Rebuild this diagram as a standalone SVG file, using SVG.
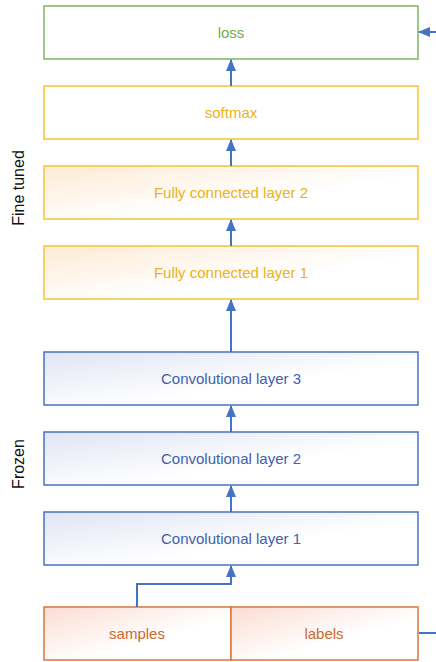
<svg xmlns="http://www.w3.org/2000/svg" width="436" height="662" viewBox="0 0 436 662">
<style>
  text { font-family: "Liberation Sans", Arial, sans-serif; font-size: 15px; text-anchor: middle; dominant-baseline: central; }
  .side { fill: #111; font-size: 16px; }
  .green rect { fill: #fff; stroke: #7BB661; stroke-width: 1.5; }
  .green text { fill: #6FAE4A; }
  .yellow rect { stroke: #F5C431; stroke-width: 1.5; }
  .yellow text { fill: #E9B21C; }
  .blue rect { fill: url(#gBlue); stroke: #4A72C0; stroke-width: 1.5; }
  .blue text { fill: #3E62A8; }
  .orange rect { fill: url(#gOrange); stroke: #D9773E; stroke-width: 1.5; }
  .orange text { fill: #C86A2E; }
  .conn path { fill: none; stroke: #4472C4; stroke-width: 2; }
</style>
<defs>
  <linearGradient id="gYellow" x1="0" y1="0" x2="1" y2="1">
    <stop offset="0" stop-color="#FDEBD5"/>
    <stop offset="0.6" stop-color="#FFFFFF"/>
  </linearGradient>
  <linearGradient id="gBlue" x1="0" y1="0" x2="1" y2="1">
    <stop offset="0" stop-color="#E0E5F4"/>
    <stop offset="0.6" stop-color="#FFFFFF"/>
  </linearGradient>
  <linearGradient id="gOrange" x1="0" y1="0" x2="1" y2="1">
    <stop offset="0" stop-color="#FBDDD2"/>
    <stop offset="0.6" stop-color="#FFFFFF"/>
  </linearGradient>
  <marker id="arr" viewBox="0 0 12 10" refX="11" refY="5" markerWidth="12" markerHeight="10" markerUnits="userSpaceOnUse" orient="auto">
    <path d="M0,0 L12,5 L0,10 Z" fill="#4472C4"/>
  </marker>
</defs>

<g id="label-finetuned"><text class="side" transform="translate(18,188) rotate(-90)">Fine tuned</text></g>
<g id="label-frozen"><text class="side" transform="translate(18,464) rotate(-90)">Frozen</text></g>

<g id="loss" class="green"><rect x="44" y="6" width="374" height="53"/><text x="231" y="32">loss</text></g>
<g id="softmax" class="yellow"><rect x="44" y="86" width="374" height="53" fill="#fff"/><text x="231" y="112">softmax</text></g>
<g id="fc2" class="yellow"><rect x="44" y="166" width="374" height="53" fill="url(#gYellow)"/><text x="231" y="192">Fully connected layer 2</text></g>
<g id="fc1" class="yellow"><rect x="44" y="246" width="374" height="53" fill="url(#gYellow)"/><text x="231" y="272">Fully connected layer 1</text></g>
<g id="conv3" class="blue"><rect x="44" y="352" width="374" height="53"/><text x="231" y="378">Convolutional layer 3</text></g>
<g id="conv2" class="blue"><rect x="44" y="432" width="374" height="53"/><text x="231" y="458">Convolutional layer 2</text></g>
<g id="conv1" class="blue"><rect x="44" y="512" width="374" height="53"/><text x="231" y="538">Convolutional layer 1</text></g>
<g id="samples" class="orange"><rect x="44" y="607" width="187" height="53"/><text x="137" y="633">samples</text></g>
<g id="labels" class="orange"><rect x="231" y="607" width="187" height="53"/><text x="324" y="633">labels</text></g>

<g id="connectors" class="conn">
  <path d="M231,86 V60" marker-end="url(#arr)"/>
  <path d="M231,166 V140" marker-end="url(#arr)"/>
  <path d="M231,246 V220" marker-end="url(#arr)"/>
  <path d="M231,352 V300" marker-end="url(#arr)"/>
  <path d="M231,432 V406" marker-end="url(#arr)"/>
  <path d="M231,512 V486" marker-end="url(#arr)"/>
  <path d="M137,607 V584 H231 V566" marker-end="url(#arr)"/>
  <path d="M419,633 H440 V32 H419" marker-end="url(#arr)"/>
</g>
</svg>
